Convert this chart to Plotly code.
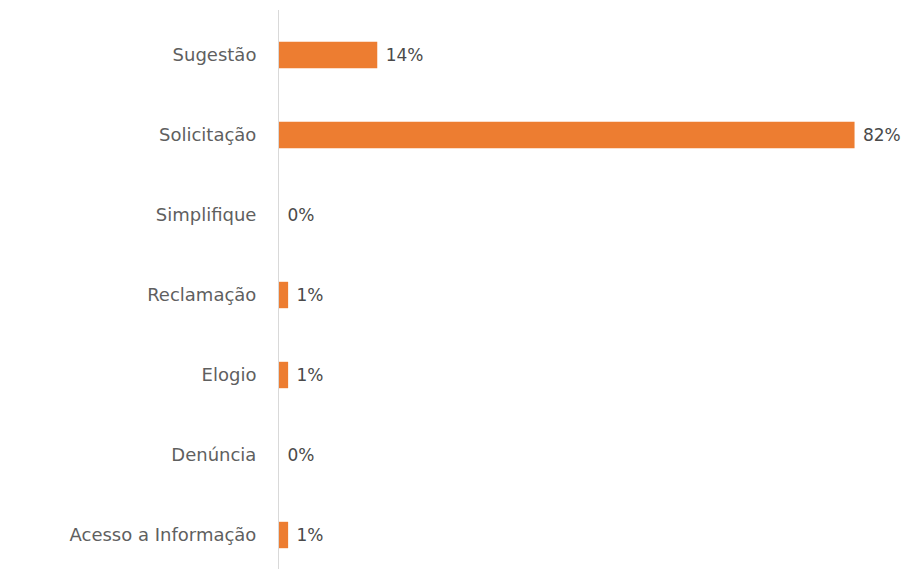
import plotly.graph_objects as go

categories = ["Sugestão", "Solicitação", "Simplifique", "Reclamação", "Elogio", "Denúncia", "Acesso a Informação"]
values = [14, 82, 0, 1.3, 1.3, 0, 1.3]
labels = ["14%", "82%", "0%", "1%", "1%", "0%", "1%"]

fig = go.Figure(go.Bar(
    y=categories, x=values, orientation="h",
    marker=dict(color="#ED7D31", line=dict(width=0)),
    width=0.33,
    text=labels, texttemplate=" %{text}", textposition="outside", cliponaxis=False,
    textfont=dict(family="DejaVu Sans", size=17, color="#4a4a4a"),
))

fig.update_layout(
    width=902, height=561,
    margin=dict(l=271, r=0, t=2, b=0),
    plot_bgcolor="white", paper_bgcolor="white",
    showlegend=False,
    font=dict(family="DejaVu Sans", size=18, color="#595959"),
    xaxis=dict(range=[0, 89.9], visible=False, showgrid=False, zeroline=False),
    yaxis=dict(categoryorder="array", categoryarray=categories,
               range=[6.425, -0.5625], showline=True, linecolor="#D9D9D9", linewidth=1,
               ticks="", showgrid=False, zeroline=False, ticklabelstandoff=18,
               tickfont=dict(family="DejaVu Sans", size=18, color="#5f5f5f")),
)

fig.write_html("out.html")
